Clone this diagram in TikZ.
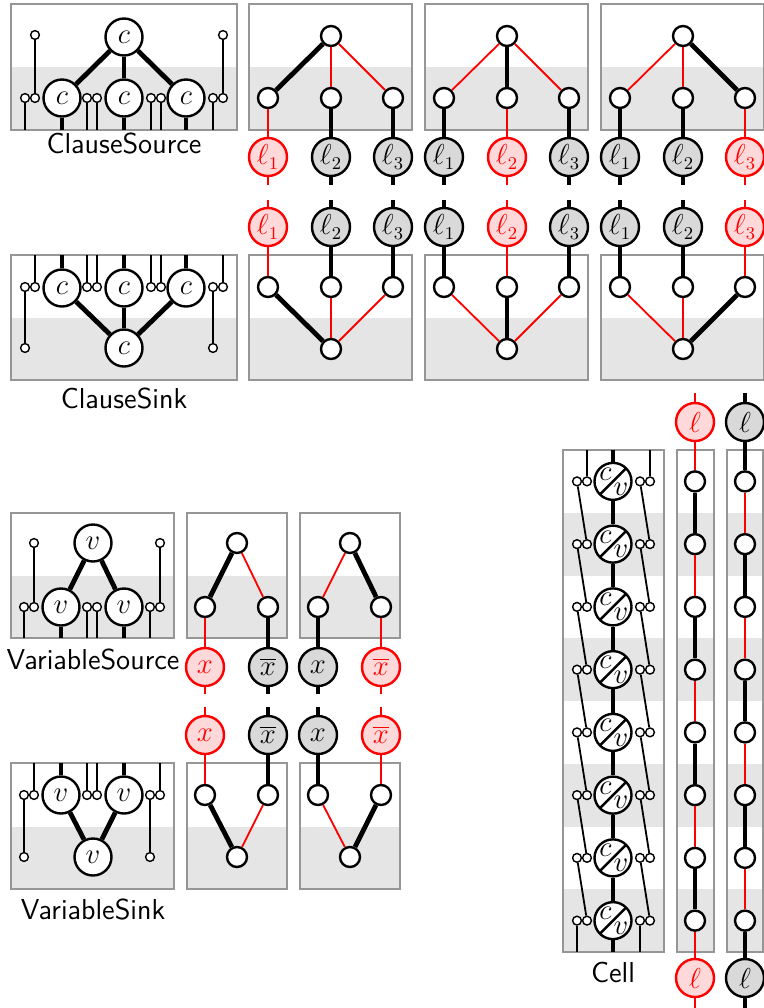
\documentclass[tikz,border=0pt]{standalone}
\usepackage{amsmath, amssymb}
\usepackage{tikz}
\usetikzlibrary{positioning, calc}
\definecolor{bandgray}{RGB}{229, 229, 229}
\definecolor{framegray}{RGB}{150, 150, 150}
\definecolor{litgray}{RGB}{217, 217, 217}
\tikzset{
    gadget/.style={circle, draw, line width=1.2pt, fill=white, minimum size=18.5pt, inner sep=0pt, font=\fontsize{13.5}{16}\selectfont},
    port/.style={circle, draw, line width=1.2pt, fill=white, minimum size=10pt, inner sep=0pt},
    knob/.style={circle, draw, line width=0.7pt, fill=white, minimum size=4.4pt, inner sep=0pt},
    lit/.style={circle, draw, line width=1.2pt, fill=litgray, minimum size=19pt, inner sep=0pt, font=\fontsize{13.5}{16}\selectfont},
    truelit/.style={lit, draw=red, fill=red!15, text=red},
    cvnode/.style={gadget, path picture={\draw[line width=1.2pt] (path picture bounding box.south west) -- (path picture bounding box.north east);}},
    cvletter/.style={inner sep=0pt, font=\fontsize{13.5}{16}\selectfont},
    heavy/.style={draw, line width=2.4pt},
    wire/.style={draw, line width=0.9pt},
    redwire/.style={draw, red, line width=0.9pt},
    gadgetbox/.style={draw=framegray, line width=0.8pt},
    boxlabel/.style={font=\fontsize{14.4}{17}\sffamily}
}

\begin{document}
\begin{tikzpicture}[x=0.5pt, y=-0.5pt]
    \useasboundingbox (0,0) rectangle (764,1008);

    % ClauseSource
    \fill[bandgray] (11,67) rectangle (237,130);
    \draw[gadgetbox] (11,4) rectangle (237,130);
    \node[gadget] (src) at (124,37) {$c$};
    \foreach \i/\x in {1/62,2/124,3/186} {
        \node[gadget] (src\i) at (\x,98) {$c$};
        \draw[heavy] (src) -- (src\i);
        \draw[heavy] (src\i) -- (src\i |- 0,130);
    }
    \foreach \x in {25,87,97,151,161,213} {
        \node[knob] (srcpin\x) at (\x,98) {};
        \draw[wire] (srcpin\x) -- (srcpin\x |- 0,130);
    }
    \foreach \x in {35,223} {
        \node[knob] (srcpin\x) at (\x,98) {};
        \node[knob] (srcend\x) at (\x,35) {};
        \draw[wire] (srcpin\x) -- (srcend\x);
    }
    \node[boxlabel] (srcname) at (124,143) {ClauseSource};

    % ClauseSink
    \fill[bandgray] (11,318) rectangle (237,380);
    \draw[gadgetbox] (11,255) rectangle (237,380);
    \node[gadget] (snk) at (124,348) {$c$};
    \foreach \i/\x in {1/62,2/124,3/186} {
        \node[gadget] (snk\i) at (\x,288) {$c$};
        \draw[heavy] (snk\i) -- (snk);
        \draw[heavy] (snk\i) -- (snk\i |- 0,255);
    }
    \foreach \x in {35,87,97,151,161,223} {
        \node[knob] (snkpin\x) at (\x,287) {};
        \draw[wire] (snkpin\x) -- (snkpin\x |- 0,255);
    }
    \foreach \x in {25,213} {
        \node[knob] (snkpin\x) at (\x,287) {};
        \node[knob] (snkend\x) at (\x,348) {};
        \draw[wire] (snkpin\x) -- (snkend\x);
    }
    \node[boxlabel] (snkname) at (124,398) {ClauseSink};

    % clause gadgets, literal k is the one set
    \foreach \k in {1,2,3} {
        \pgfmathsetmacro\xl{249+176*(\k-1)}
        \fill[bandgray] (\xl,67) rectangle (\xl+163,130);
        \draw[gadgetbox] (\xl,4) rectangle (\xl+163,130);
        \fill[bandgray] (\xl,318) rectangle (\xl+163,380);
        \draw[gadgetbox] (\xl,255) rectangle (\xl+163,380);
        \node[port] (top\k) at (\xl+82,36) {};
        \node[port] (bot\k) at (\xl+82,349) {};
        \foreach \j/\dx in {1/19,2/82,3/144} {
            \ifnum\j=\k
                \def\branch{heavy}\def\leg{redwire}\def\litstyle{truelit}
            \else
                \def\branch{redwire}\def\leg{heavy}\def\litstyle{lit}
            \fi
            \node[port] (up\k\j) at (\xl+\dx,98) {};
            \node[port] (dn\k\j) at (\xl+\dx,287) {};
            \node[\litstyle] (la\k\j) at (\xl+\dx,157) {$\ell_\j$};
            \node[\litstyle] (lb\k\j) at (\xl+\dx,227) {$\ell_\j$};
            \draw[\branch] (top\k) -- (up\k\j);
            \draw[\leg] (up\k\j) -- (la\k\j);
            \draw[\leg] (la\k\j) -- (la\k\j |- 0,185);
            \draw[\leg] (lb\k\j |- 0,200) -- (lb\k\j);
            \draw[\leg] (lb\k\j) -- (dn\k\j);
            \draw[\branch] (dn\k\j) -- (bot\k);
        }
    }

    % VariableSource
    \fill[bandgray] (11,576) rectangle (174,638);
    \draw[gadgetbox] (11,513) rectangle (174,638);
    \node[gadget] (vsrc) at (93,543) {$v$};
    \foreach \i/\x in {1/61,2/124} {
        \node[gadget] (vsrc\i) at (\x,607) {$v$};
        \draw[heavy] (vsrc) -- (vsrc\i);
        \draw[heavy] (vsrc\i) -- (vsrc\i |- 0,638);
    }
    \foreach \x in {24,87,97,150} {
        \node[knob] (vsrcpin\x) at (\x,607) {};
        \draw[wire] (vsrcpin\x) -- (vsrcpin\x |- 0,638);
    }
    \foreach \x in {34,160} {
        \node[knob] (vsrcpin\x) at (\x,607) {};
        \node[knob] (vsrcend\x) at (\x,543) {};
        \draw[wire] (vsrcpin\x) -- (vsrcend\x);
    }
    \node[boxlabel] (vsrcname) at (93,659) {VariableSource};

    % VariableSink
    \fill[bandgray] (11,827) rectangle (174,889);
    \draw[gadgetbox] (11,763) rectangle (174,889);
    \node[gadget] (vsnk) at (93,857) {$v$};
    \foreach \i/\x in {1/61,2/124} {
        \node[gadget] (vsnk\i) at (\x,795) {$v$};
        \draw[heavy] (vsnk\i) -- (vsnk);
        \draw[heavy] (vsnk\i) -- (vsnk\i |- 0,763);
    }
    \foreach \x in {34,87,97,160} {
        \node[knob] (vsnkpin\x) at (\x,795) {};
        \draw[wire] (vsnkpin\x) -- (vsnkpin\x |- 0,763);
    }
    \foreach \x in {24,150} {
        \node[knob] (vsnkpin\x) at (\x,795) {};
        \node[knob] (vsnkend\x) at (\x,857) {};
        \draw[wire] (vsnkpin\x) -- (vsnkend\x);
    }
    \node[boxlabel] (vsnkname) at (93,909) {VariableSink};

    % variable gadgets
    \foreach \k/\xl in {1/187,2/300} {
        \fill[bandgray] (\xl,576) rectangle (\xl+100,638);
        \draw[gadgetbox] (\xl,513) rectangle (\xl+100,638);
        \fill[bandgray] (\xl,827) rectangle (\xl+100,889);
        \draw[gadgetbox] (\xl,763) rectangle (\xl+100,889);
        \node[port] (vtop\k) at (\xl+50,543) {};
        \node[port] (vbot\k) at (\xl+50,857) {};
        \foreach \j/\dx/\txt in {1/18/{x},2/81/{\overline{x}}} {
            \ifnum\j=\k
                \def\branch{heavy}\def\leg{redwire}\def\litstyle{truelit}
            \else
                \def\branch{redwire}\def\leg{heavy}\def\litstyle{lit}
            \fi
            \node[port] (vup\k\j) at (\xl+\dx,607) {};
            \node[port] (vdn\k\j) at (\xl+\dx,795) {};
            \node[\litstyle] (xa\k\j) at (\xl+\dx,667) {$\txt$};
            \node[\litstyle] (xb\k\j) at (\xl+\dx,735) {$\txt$};
            \draw[\branch] (vtop\k) -- (vup\k\j);
            \draw[\leg] (vup\k\j) -- (xa\k\j);
            \draw[\leg] (xa\k\j) -- (xa\k\j |- 0,694);
            \draw[\leg] (xb\k\j |- 0,707) -- (xb\k\j);
            \draw[\leg] (xb\k\j) -- (vdn\k\j);
            \draw[\branch] (vdn\k\j) -- (vbot\k);
        }
    }

    % Cell with its two literal columns
    \foreach \i in {2,4,6,8} {
        \fill[bandgray] (563,450+62.75*\i-62.75) rectangle (664,450+62.75*\i);
        \fill[bandgray] (677,450+62.75*\i-62.75) rectangle (714,450+62.75*\i);
        \fill[bandgray] (727,450+62.75*\i-62.75) rectangle (763,450+62.75*\i);
    }
    \draw[gadgetbox] (563,450) rectangle (664,952);
    \draw[gadgetbox] (677,450) rectangle (714,952);
    \draw[gadgetbox] (727,450) rectangle (763,952);
    \foreach \i in {1,...,8} {
        \pgfmathsetmacro\yr{450+62.75*(\i-0.5)}
        \node[cvnode] (cv\i) at (613,\yr) {};
        \node[cvletter] (cvc\i) at ([shift={(-3.8pt,3.6pt)}]cv\i.center) {$c$};
        \node[cvletter] (cvv\i) at ([shift={(4pt,-3.8pt)}]cv\i.center) {$v$};
        \node[knob] (clo\i) at (577,\yr) {};
        \node[knob] (cli\i) at (587,\yr) {};
        \node[knob] (cri\i) at (640,\yr) {};
        \node[knob] (cro\i) at (650,\yr) {};
        \node[port] (ca\i) at (695,\yr) {};
        \node[port] (cb\i) at (745,\yr) {};
    }
    \draw[heavy] (cv1 |- 0,450) -- (cv1);
    \draw[heavy] (cv8) -- (cv8 |- 0,952);
    \draw[wire] (cli1 |- 0,450) -- (cli1);
    \draw[wire] (cro1 |- 0,450) -- (cro1);
    \draw[wire] (clo8) -- (clo8 |- 0,952);
    \draw[wire] (cri8) -- (cri8 |- 0,952);
    \foreach \i/\n in {1/2,2/3,3/4,4/5,5/6,6/7,7/8} {
        \draw[heavy] (cv\i) -- (cv\n);
        \draw[wire] (clo\i) -- (cli\n);
        \draw[wire] (cri\i) -- (cro\n);
    }
    \node[boxlabel] (cellname) at (613,972) {Cell};

    \node[truelit] (lta) at (695,422) {$\ell$};
    \node[lit] (ltb) at (745,422) {$\ell$};
    \node[truelit] (lba) at (695,978) {$\ell$};
    \node[lit] (lbb) at (745,978) {$\ell$};
    \draw[redwire] (lta |- 0,393) -- (lta);
    \draw[redwire] (lta) -- (ca1);
    \draw[redwire] (ca8) -- (lba);
    \draw[redwire] (lba) -- (lba |- 0,1008);
    \draw[heavy] (ltb |- 0,393) -- (ltb);
    \draw[heavy] (ltb) -- (cb1);
    \draw[heavy] (cb8) -- (lbb);
    \draw[heavy] (lbb) -- (lbb |- 0,1008);
    \foreach \i/\n in {1/2,3/4,5/6,7/8} {
        \draw[heavy] (ca\i) -- (ca\n);
        \draw[redwire] (cb\i) -- (cb\n);
    }
    \foreach \i/\n in {2/3,4/5,6/7} {
        \draw[redwire] (ca\i) -- (ca\n);
        \draw[heavy] (cb\i) -- (cb\n);
    }
\end{tikzpicture}
\end{document}
